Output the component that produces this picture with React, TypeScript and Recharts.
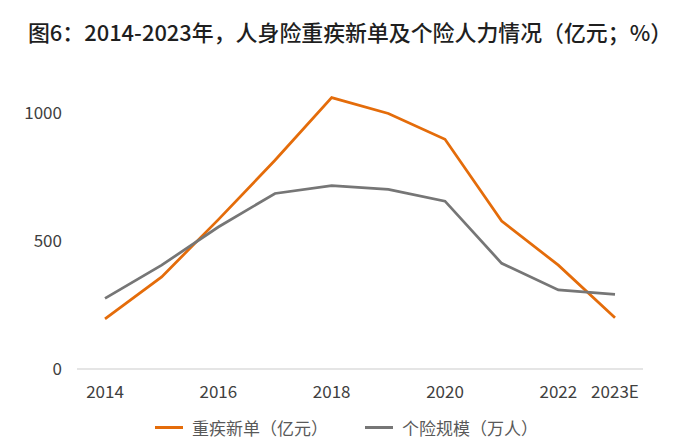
import { LineChart, Line, XAxis, YAxis } from 'recharts';

const years = ['2014', '2015', '2016', '2017', '2018', '2019', '2020', '2021', '2022', '2023E'];
const shownYears = ['2014', '2016', '2018', '2020', '2022', '2023E'];
const ciNewPremium = [196, 360, 584, 816, 1061, 999, 898, 578, 406, 200];
const agentCount = [276, 406, 555, 686, 717, 702, 656, 413, 309, 292];
const yTicks = [0, 500, 1000];

const series = [
  { key: 'ci', name: '重疾新单（亿元）', color: '#E46C0A' },
  { key: 'agent', name: '个险规模（万人）', color: '#767676' },
];

const data = years.map((year, i) => ({ year, ci: ciNewPremium[i], agent: agentCount[i] }));

const FONT = '"Noto Sans CJK SC", "Noto Sans", sans-serif';

export default function App() {
  return (
    <div style={{ position: 'absolute', left: 0, top: 0, width: 700, height: 444, background: '#fff', fontFamily: FONT }}>
      <div style={{ position: 'absolute', top: 0, left: 0, width: 700, height: 64, lineHeight: '64px', textAlign: 'center', fontSize: 21.9, fontWeight: 500, color: '#1f1f1f' }}>
        图6：2014-2023年，人身险重疾新单及个险人力情况（亿元；%）
      </div>
      <LineChart width={700} height={444} data={data} margin={{ top: 62, right: 57, left: 0, bottom: 45 }}>
        <XAxis
          dataKey="year"
          interval={0}
          padding={{ left: 28, right: 28 }}
          tickLine={false}
          axisLine={{ stroke: '#DDDDDD', strokeWidth: 1.5 }}
          tickMargin={11}
          height={30}
          tick={{ fontSize: 17, fill: '#404040', fontFamily: FONT }}
          tickFormatter={(v: string) => (shownYears.includes(v) ? v : '')}
        />
        <YAxis
          domain={[0, 1200]}
          ticks={yTicks}
          width={77}
          tickLine={false}
          axisLine={false}
          tickMargin={9}
          tick={{ fontSize: 17, fill: '#404040', fontFamily: FONT }}
        />
        {series.map((s) => (
          <Line
            key={s.key}
            dataKey={s.key}
            name={s.name}
            stroke={s.color}
            strokeWidth={2.75}
            dot={false}
            isAnimationActive={false}
          />
        ))}
      </LineChart>
      <div style={{ position: 'absolute', top: 414, left: 0, width: 693, height: 26, display: 'flex', justifyContent: 'center', alignItems: 'center', gap: 37, fontSize: 17, color: '#595959' }}>
        {series.map((s) => (
          <div key={s.key} style={{ display: 'flex', alignItems: 'center' }}>
            <span style={{ display: 'inline-block', width: 28, height: 3, background: s.color, marginRight: 9 }} />
            <span>{s.name}</span>
          </div>
        ))}
      </div>
    </div>
  );
}
